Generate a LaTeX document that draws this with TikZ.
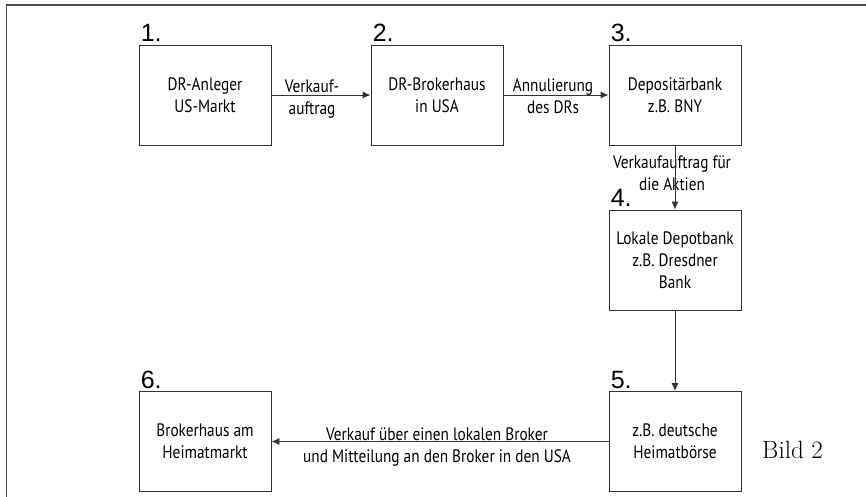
\documentclass[tikz,border=0pt]{standalone}
\usepackage{fontspec}
\newfontfamily\lblfont{PT Sans}[FakeStretch=0.85]
\newfontfamily\numfont{Liberation Sans}
\usetikzlibrary{arrows.meta}
\begin{document}
\begin{tikzpicture}[x=1pt,y=-1pt,
  box/.style={draw=black!80, line width=0.9pt, minimum width=132pt, minimum height=100pt,
    inner sep=0pt, align=center, font=\lblfont\fontsize{18}{22}\selectfont, text=black},
  lbl/.style={align=center, inner sep=0pt, anchor=base, text=black,
    font=\lblfont\fontsize{18}{22}\selectfont},
  num/.style={anchor=base west, inner sep=0pt, font=\numfont\fontsize{25}{25}\selectfont},
  flow/.style={draw=black!80, line width=0.9pt, -{Latex[length=8pt,width=7pt]}},
  frame/.style={draw=black!70, line width=1.6pt}]
\useasboundingbox (0,0) rectangle (866,497);
% open frame around the chart
\draw[frame] (6.5,510) -- (6.5,5) -- (880,5);

% process steps
\node[box] (b1) at (205,95)    {DR-Anleger\\US-Markt};
\node[box] (b2) at (437,95)    {DR-Brokerhaus\\in USA};
\node[box] (b3) at (675,95)    {Depositärbank\\z.B. BNY};
\node[box] (b4) at (675,260)   {Lokale Depotbank\\z.B. Dresdner\\Bank};
\node[box] (b5) at (675,441.5) {z.B. deutsche\\Heimatbörse};
\node[box] (b6) at (205,441.5) {Brokerhaus am\\Heimatmarkt};

% step numbers
\node[num] (n1) at ([xshift=2pt,yshift=3pt]b1.north west) {1.};
\node[num] (n2) at ([xshift=2pt,yshift=3pt]b2.north west) {2.};
\node[num] (n3) at ([xshift=2pt,yshift=3pt]b3.north west) {3.};
\node[num] (n4) at ([xshift=2pt,yshift=3pt]b4.north west) {4.};
\node[num] (n5) at ([xshift=2pt,yshift=3pt]b5.north west) {5.};
\node[num] (n6) at ([xshift=2pt,yshift=3pt]b6.north west) {6.};

% flow labels (anchored on the baseline of their last line)
\node[lbl] (l12) at (312,115) {Verkauf-\\auftrag};
\node[lbl] (l23) at (553,114) {Annulierung\\des DRs};
\node[lbl] (l34) at (672,190) {Verkaufauftrag für\\die Aktien};
\node[lbl] (l56) at (437,462) {Verkauf über einen lokalen Broker\\und Mitteilung an den Broker in den USA};

% flows
\draw[flow] (b1.east) -- (b2.west);
\draw[flow] (b2.east) -- (b3.west);
\draw[flow] (b3.south) -- (b4.north);
\draw[flow] (b4.south) -- (b5.north);
\draw[flow] (b5.west) -- (b6.east);

% caption
\node[anchor=base west, inner sep=0pt, font=\fontsize{25}{25}\selectfont] (bild) at (762,458) {Bild 2};
\end{tikzpicture}
\end{document}
